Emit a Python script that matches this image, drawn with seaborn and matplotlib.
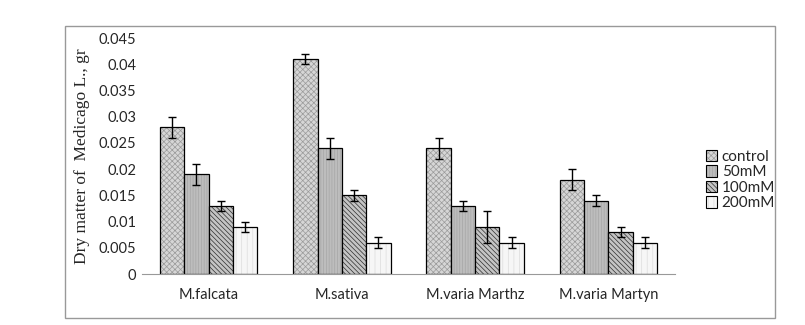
import pandas as pd
import seaborn as sns
import matplotlib.pyplot as plt
from matplotlib.colors import to_rgba
from matplotlib.patches import Patch, Rectangle
from matplotlib.ticker import FuncFormatter

# chart values
species = ['M.falcata', 'M.sativa', 'M.varia Marthz', 'M.varia Martyn']
treatments = ['control', '50mM', '100mM', '200mM']
control = [0.028, 0.041, 0.024, 0.018]
mm50 = [0.019, 0.024, 0.013, 0.014]
mm100 = [0.013, 0.015, 0.009, 0.008]
mm200 = [0.009, 0.006, 0.006, 0.006]
err_control = [0.002, 0.001, 0.002, 0.002]
err_50 = [0.002, 0.002, 0.001, 0.001]
err_100 = [0.001, 0.001, 0.003, 0.001]
err_200 = [0.001, 0.001, 0.001, 0.001]

rows = []
for t, vals, errs in zip(treatments, [control, mm50, mm100, mm200],
                         [err_control, err_50, err_100, err_200]):
    for s, v, e in zip(species, vals, errs):
        rows.append({'species': s, 'treatment': t, 'value': v, 'err': e})
data = pd.DataFrame(rows)

sns.set_style('white')
plt.rcParams['hatch.linewidth'] = 0.5

faces = {'control': '#d6d6d6', '50mM': '#bdbdbd', '100mM': '#c4c4c4', '200mM': '#f6f6f6'}
hatches = {'control': 'xxxxxx', '50mM': '||||||', '100mM': '\\\\\\\\\\\\\\', '200mM': '|||'}
hatch_cols = {'control': '#9a9a9a', '50mM': '#a6a6a6', '100mM': '#2e2e2e', '200mM': '#dcdcdc'}

fig = plt.figure(figsize=(8.05, 3.25), dpi=100)
ax = fig.add_axes([142 / 805, 1 - 274 / 325, (675 - 142) / 805, (274 - 38) / 325])

sns.barplot(data=data, x='species', y='value', hue='treatment', hue_order=treatments,
            order=species, width=0.73, gap=0, errorbar=None, ax=ax,
            palette=faces, edgecolor='black', linewidth=0.9, legend=False)

for cont, t in zip(ax.containers, treatments):
    sub = data[data.treatment == t].set_index('species').loc[species]
    xs = []
    for bar in cont:
        bar.set_hatch(hatches[t])
        bar._hatch_color = to_rgba(hatch_cols[t])
        xs.append(bar.get_x() + bar.get_width() / 2)
    ax.errorbar(xs, sub['value'], yerr=sub['err'], fmt='none', ecolor='black',
                elinewidth=1, capsize=3, capthick=1)

ax.set_ylim(0, 0.045)
ax.set_yticks([i * 0.005 for i in range(10)])
ax.yaxis.set_major_formatter(FuncFormatter(lambda v, p: '0' if v == 0 else ('%.3f' % v).rstrip('0')))
ax.set_xlim(-0.5, 3.5)
ax.set_xlabel('')
ax.set_ylabel('Dry matter of  Medicago L., gr', family='Liberation Serif', fontsize=12.5,
              labelpad=6)
for lab in ax.get_xticklabels() + ax.get_yticklabels():
    lab.set_family(['Lato', 'DejaVu Sans'])
    lab.set_fontsize(10.5)
ax.tick_params(axis='x', length=0, pad=10)
ax.tick_params(axis='y', length=0, pad=4)
for side in ['top', 'right', 'left']:
    ax.spines[side].set_visible(False)
ax.spines['bottom'].set_color('#999999')

handles = [Patch(facecolor=faces[t], edgecolor='black', hatch=hatches[t], linewidth=0.8)
           for t in treatments]
leg = fig.legend(handles, treatments, loc='upper left', bbox_to_anchor=(692 / 805, 1 - 136 / 325),
                 frameon=False, handlelength=0.75, handleheight=0.75, handletextpad=0.3,
                 labelspacing=0.1, prop={'family': ['Lato', 'DejaVu Sans'], 'size': 11})
for h, t in zip(leg.legend_handles, treatments):
    h._hatch_color = to_rgba(hatch_cols[t])

fig.patches.append(Rectangle((65 / 805, 1 - 318 / 325), (775 - 65) / 805, (318 - 26) / 325,
                             transform=fig.transFigure, fill=False, edgecolor='#999999',
                             linewidth=1))

fig.savefig('out.png', dpi=100)
